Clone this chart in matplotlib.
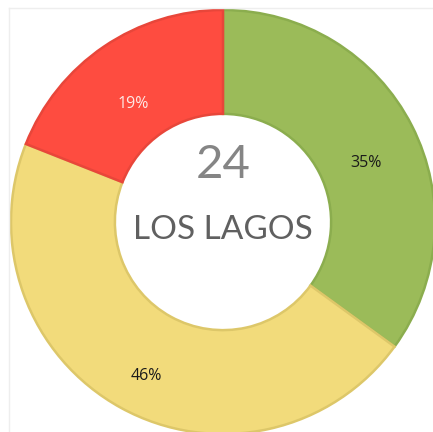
import matplotlib
matplotlib.use("Agg")
import matplotlib.pyplot as plt
from matplotlib.lines import Line2D
from matplotlib.transforms import offset_copy

# Data
categories = ["Verde", "Amarillo", "Rojo"]
values = [35, 46, 19]
fill_colors = ["#9BBB59", "#F2DB7B", "#FE4C40"]
edge_colors = ["#8BAD4E", "#DDC769", "#E8463A"]
label_colors = ["#1a1a1a", "#1a1a1a", "#FDE9E6"]
center_number = "24"
center_title = "LOS LAGOS"

W, H = 433, 432
fig = plt.figure(figsize=(W / 100, H / 100), dpi=100)
fig.patch.set_facecolor("white")
ax = fig.add_axes([0, 0, 1, 1])

# faint frame (top and left only)
fx0, fy1 = 8.5 / W, 1 - 7.5 / H
fig.lines.append(Line2D([fx0, fx0], [0, fy1], transform=fig.transFigure,
                        color="#eeeeee", linewidth=1))
fig.lines.append(Line2D([fx0, 1], [fy1, fy1], transform=fig.transFigure,
                        color="#eeeeee", linewidth=1))

cx, cy, R = 223, 210, 212  # pixel center (from bottom) and radius
ax.set_aspect("equal")
ax.axis("off")

wedges, texts, autotexts = ax.pie(
    values, colors=fill_colors, startangle=90, counterclock=False,
    radius=1, autopct="%1.0f%%", pctdistance=0.755,
    wedgeprops=dict(width=0.49, linewidth=1.8),
    textprops=dict(fontsize=11.5, family=["Open Sans", "DejaVu Sans"]))
for w, ec in zip(wedges, edge_colors):
    w.set_edgecolor(ec)
shifted = offset_copy(ax.transData, fig=fig, x=0, y=-14, units="dots")
for t, c in zip(autotexts, label_colors):
    t.set_color(c)
    t.set_transform(shifted)

ax.set_xlim(-cx / R, (W - cx) / R)
ax.set_ylim(-cy / R, (H - cy) / R)

ax.text(0, 0.27, center_number, ha="center", va="center", fontsize=34,
        color="#858585", family=["Lato", "DejaVu Sans"])
ax.text(0, -0.04, center_title, ha="center", va="center", fontsize=24,
        color="#606060", family=["Lato", "DejaVu Sans"])

fig.savefig("out.png", dpi=100, facecolor="white")
